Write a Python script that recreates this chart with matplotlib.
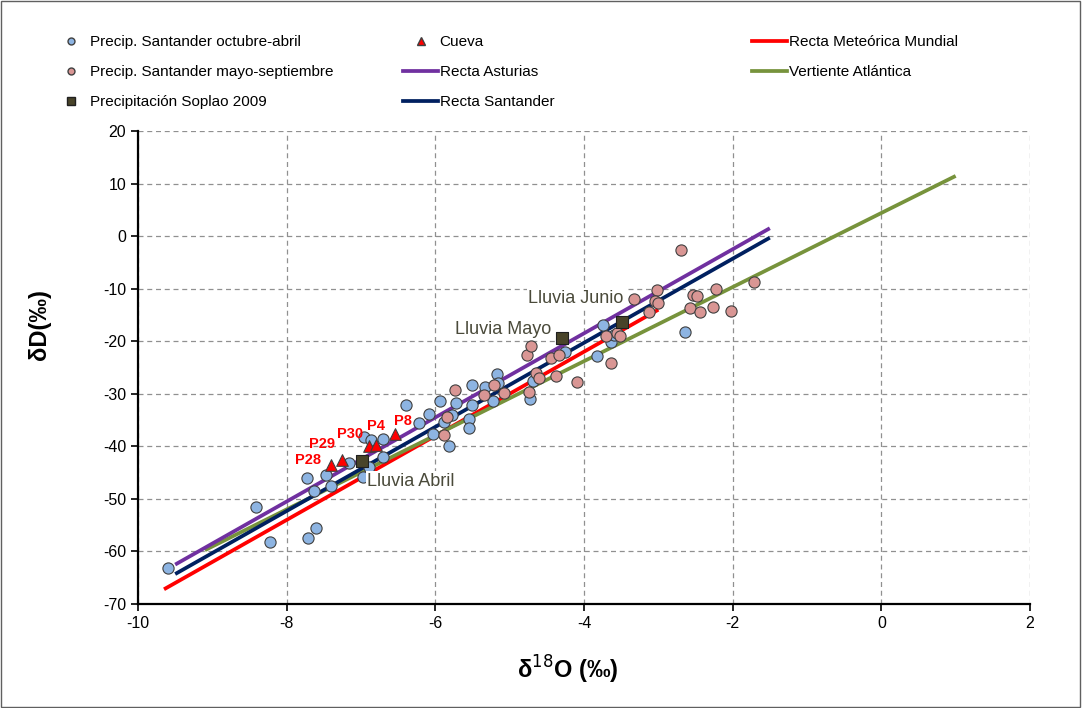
import numpy as np
import matplotlib
matplotlib.use('Agg')
import matplotlib.pyplot as plt
from matplotlib.lines import Line2D
from matplotlib.patches import Rectangle

plt.rcParams['font.family'] = ['Liberation Sans', 'DejaVu Sans']
plt.rcParams['axes.unicode_minus'] = False  # trattino semplice come in Excel

# Precipitacion Santander octubre-abril
oct_abr_x = [-9.60, -8.41, -8.22, -7.71, -7.60, -7.72, -7.63, -7.41, -7.47, -7.16, -6.97, -6.89,
             -6.96, -6.86, -6.71, -6.71, -6.40, -6.22, -6.09, -5.94, -6.03, -5.82, -5.88, -5.78,
             -5.72, -5.51, -5.51, -5.55, -5.55, -5.33, -5.23, -5.17, -5.16, -4.72, -4.68, -4.25,
             -3.83, -3.74, -3.64, -3.59, -2.64]
oct_abr_y = [-63.2, -51.5, -58.2, -57.4, -55.5, -46.0, -48.5, -47.5, -45.5, -43.1, -45.9, -44.0,
             -38.3, -38.7, -38.6, -42.0, -32.1, -35.5, -33.9, -31.4, -37.7, -39.9, -35.4, -34.0,
             -31.7, -28.3, -32.1, -34.8, -36.6, -28.8, -31.3, -26.2, -27.9, -30.9, -27.5, -22.1,
             -22.9, -17.0, -20.2, -18.9, -18.3]

# Precipitacion Santander mayo-septiembre
may_sep_x = [-5.73, -5.84, -5.88, -5.35, -5.21, -5.07, -4.77, -4.71, -4.74, -4.65, -4.61, -4.44,
             -4.34, -4.38, -4.10, -3.64, -3.70, -3.55, -3.52, -3.33, -3.13, -3.02, -3.04, -3.01,
             -2.70, -2.58, -2.53, -2.48, -2.44, -2.27, -2.23, -2.02, -1.71]
may_sep_y = [-29.3, -34.5, -37.8, -30.3, -28.4, -29.9, -22.6, -21.0, -29.7, -26.1, -27.0, -23.1,
             -22.7, -26.7, -27.7, -24.2, -19.0, -18.4, -19.1, -12.0, -14.5, -10.3, -12.3, -12.8,
             -2.7, -13.6, -11.3, -11.4, -14.4, -13.4, -10.1, -14.3, -8.8]

# Precipitacion Soplao 2009
soplao_nombres = ['Lluvia Abril', 'Lluvia Mayo', 'Lluvia Junio']
soplao_x = [-6.99, -4.30, -3.49]
soplao_y = [-42.7, -19.3, -16.3]

# Cueva
cueva_nombres = ['P28', 'P29', 'P30', 'P4', 'P8']
cueva_x = [-7.41, -7.25, -6.89, -6.80, -6.54]
cueva_y = [-43.5, -42.6, -40.0, -39.8, -37.7]

# rectas: pendiente, ordenada, rango de d18O
mundial = (8.0, 10.0, -9.65, -3.0)
asturias = (8.0, 13.5, -9.5, -1.5)
santander = (8.0, 11.7, -9.5, -1.5)
atlantica = (7.05, 4.4, -9.1, 1.0)

fig = plt.figure(figsize=(10.82, 7.08), dpi=100)
ax = fig.add_axes([138/1082, 1-604/708, (1030-138)/1082, (604-131)/708])

def recta(r):
    x = np.array([r[2], r[3]])
    return x, r[0]*x + r[1]

lw = 2.7
x, y = recta(mundial)
ax.plot(x, y, color='#ff0000', lw=lw, zorder=3, solid_capstyle='butt')
x, y = recta(atlantica)
ax.plot(x, y, color='#77933c', lw=lw, zorder=3, solid_capstyle='butt')
x, y = recta(santander)
ax.plot(x, y, color='#002060', lw=lw, zorder=3, solid_capstyle='butt')
x, y = recta(asturias)
ax.plot(x, y, color='#7030a0', lw=lw, zorder=3, solid_capstyle='butt')

ax.scatter(oct_abr_x, oct_abr_y, s=65, color='#8db4e2', edgecolor='#404040', linewidth=0.8, zorder=4)
ax.scatter(may_sep_x, may_sep_y, s=65, color='#d99694', edgecolor='#404040', linewidth=0.8, zorder=4)
ax.scatter(soplao_x, soplao_y, s=80, marker='s', color='#494429', edgecolor='#202020', linewidth=0.8, zorder=5)
ax.scatter(cueva_x, cueva_y, s=70, marker='^', color='#ff0000', edgecolor='#404040', linewidth=0.8, zorder=5)

# etichette
pos_soplao = [(-6.92, -46.6), (-5.74, -17.7), (-4.75, -11.8)]
for nome, p in zip(soplao_nombres, pos_soplao):
    ax.text(p[0], p[1], nome, fontsize=13, color='#4a4a3a', ha='left', va='center', zorder=6,
            bbox=dict(facecolor='white', edgecolor='none', pad=1))
pos_cueva = [(-7.71, -42.6), (-7.52, -39.5), (-7.15, -37.6), (-6.80, -36.1), (-6.43, -35.2)]
for nome, p in zip(cueva_nombres, pos_cueva):
    ax.text(p[0], p[1], nome, fontsize=10.5, color='#ff0000', fontweight='bold', ha='center', va='center', zorder=6)

ax.set_xlim(-10, 2)
ax.set_ylim(-70, 20)
ax.set_xticks(np.arange(-10, 3, 2))
ax.set_yticks(np.arange(-70, 21, 10))
ax.grid(True, color='#909090', linestyle=(0, (4, 3)), linewidth=0.9)
ax.set_axisbelow(True)
for s in ['top', 'right']:
    ax.spines[s].set_visible(False)
for s in ['left', 'bottom']:
    ax.spines[s].set_linewidth(1.6)
ax.tick_params(direction='out', length=5, width=1.2, labelsize=11.5)

# titoli degli assi, posizionati come nell'originale
fig.text(568/1082, 1-670/708, 'δ$^{18}$O (‰)', fontsize=17, fontweight='bold', ha='center', va='center')
fig.text(40/1082, 1-325/708, 'δD(‰)', fontsize=17, fontweight='bold', ha='center', va='center', rotation=90)

# legenda in tre colonne separate
h1 = [Line2D([], [], ls='none', marker='o', ms=5, mfc='#8db4e2', mec='#404040'),
      Line2D([], [], ls='none', marker='o', ms=5, mfc='#d99694', mec='#404040'),
      Line2D([], [], ls='none', marker='s', ms=6, mfc='#494429', mec='#202020')]
l1 = ['Precip. Santander octubre-abril', 'Precip. Santander mayo-septiembre', 'Precipitación Soplao 2009']
h2 = [Line2D([], [], ls='none', marker='^', ms=6, mfc='#ff0000', mec='#404040'),
      Line2D([], [], color='#7030a0', lw=lw),
      Line2D([], [], color='#002060', lw=lw)]
l2 = ['Cueva', 'Recta Asturias', 'Recta Santander']
h3 = [Line2D([], [], color='#ff0000', lw=lw),
      Line2D([], [], color='#77933c', lw=lw)]
l3 = ['Recta Meteórica Mundial', 'Vertiente Atlántica']

kw = dict(loc='upper left', frameon=False, fontsize=11, handletextpad=0.1,
          labelspacing=1.05, borderpad=0, borderaxespad=0, handlelength=2.3)
fig.legend(h1, l1, bbox_to_anchor=(53/1082, 1-35/708), **kw)
fig.legend(h2, l2, bbox_to_anchor=(403/1082, 1-35/708), **kw)
fig.legend(h3, l3, bbox_to_anchor=(752/1082, 1-35/708), **kw)

# cornice
fig.patches.append(Rectangle((0.001, 0.001), 0.997, 0.997, transform=fig.transFigure,
                             fill=False, edgecolor='#606060', linewidth=1))

fig.savefig('out.png', dpi=100)
